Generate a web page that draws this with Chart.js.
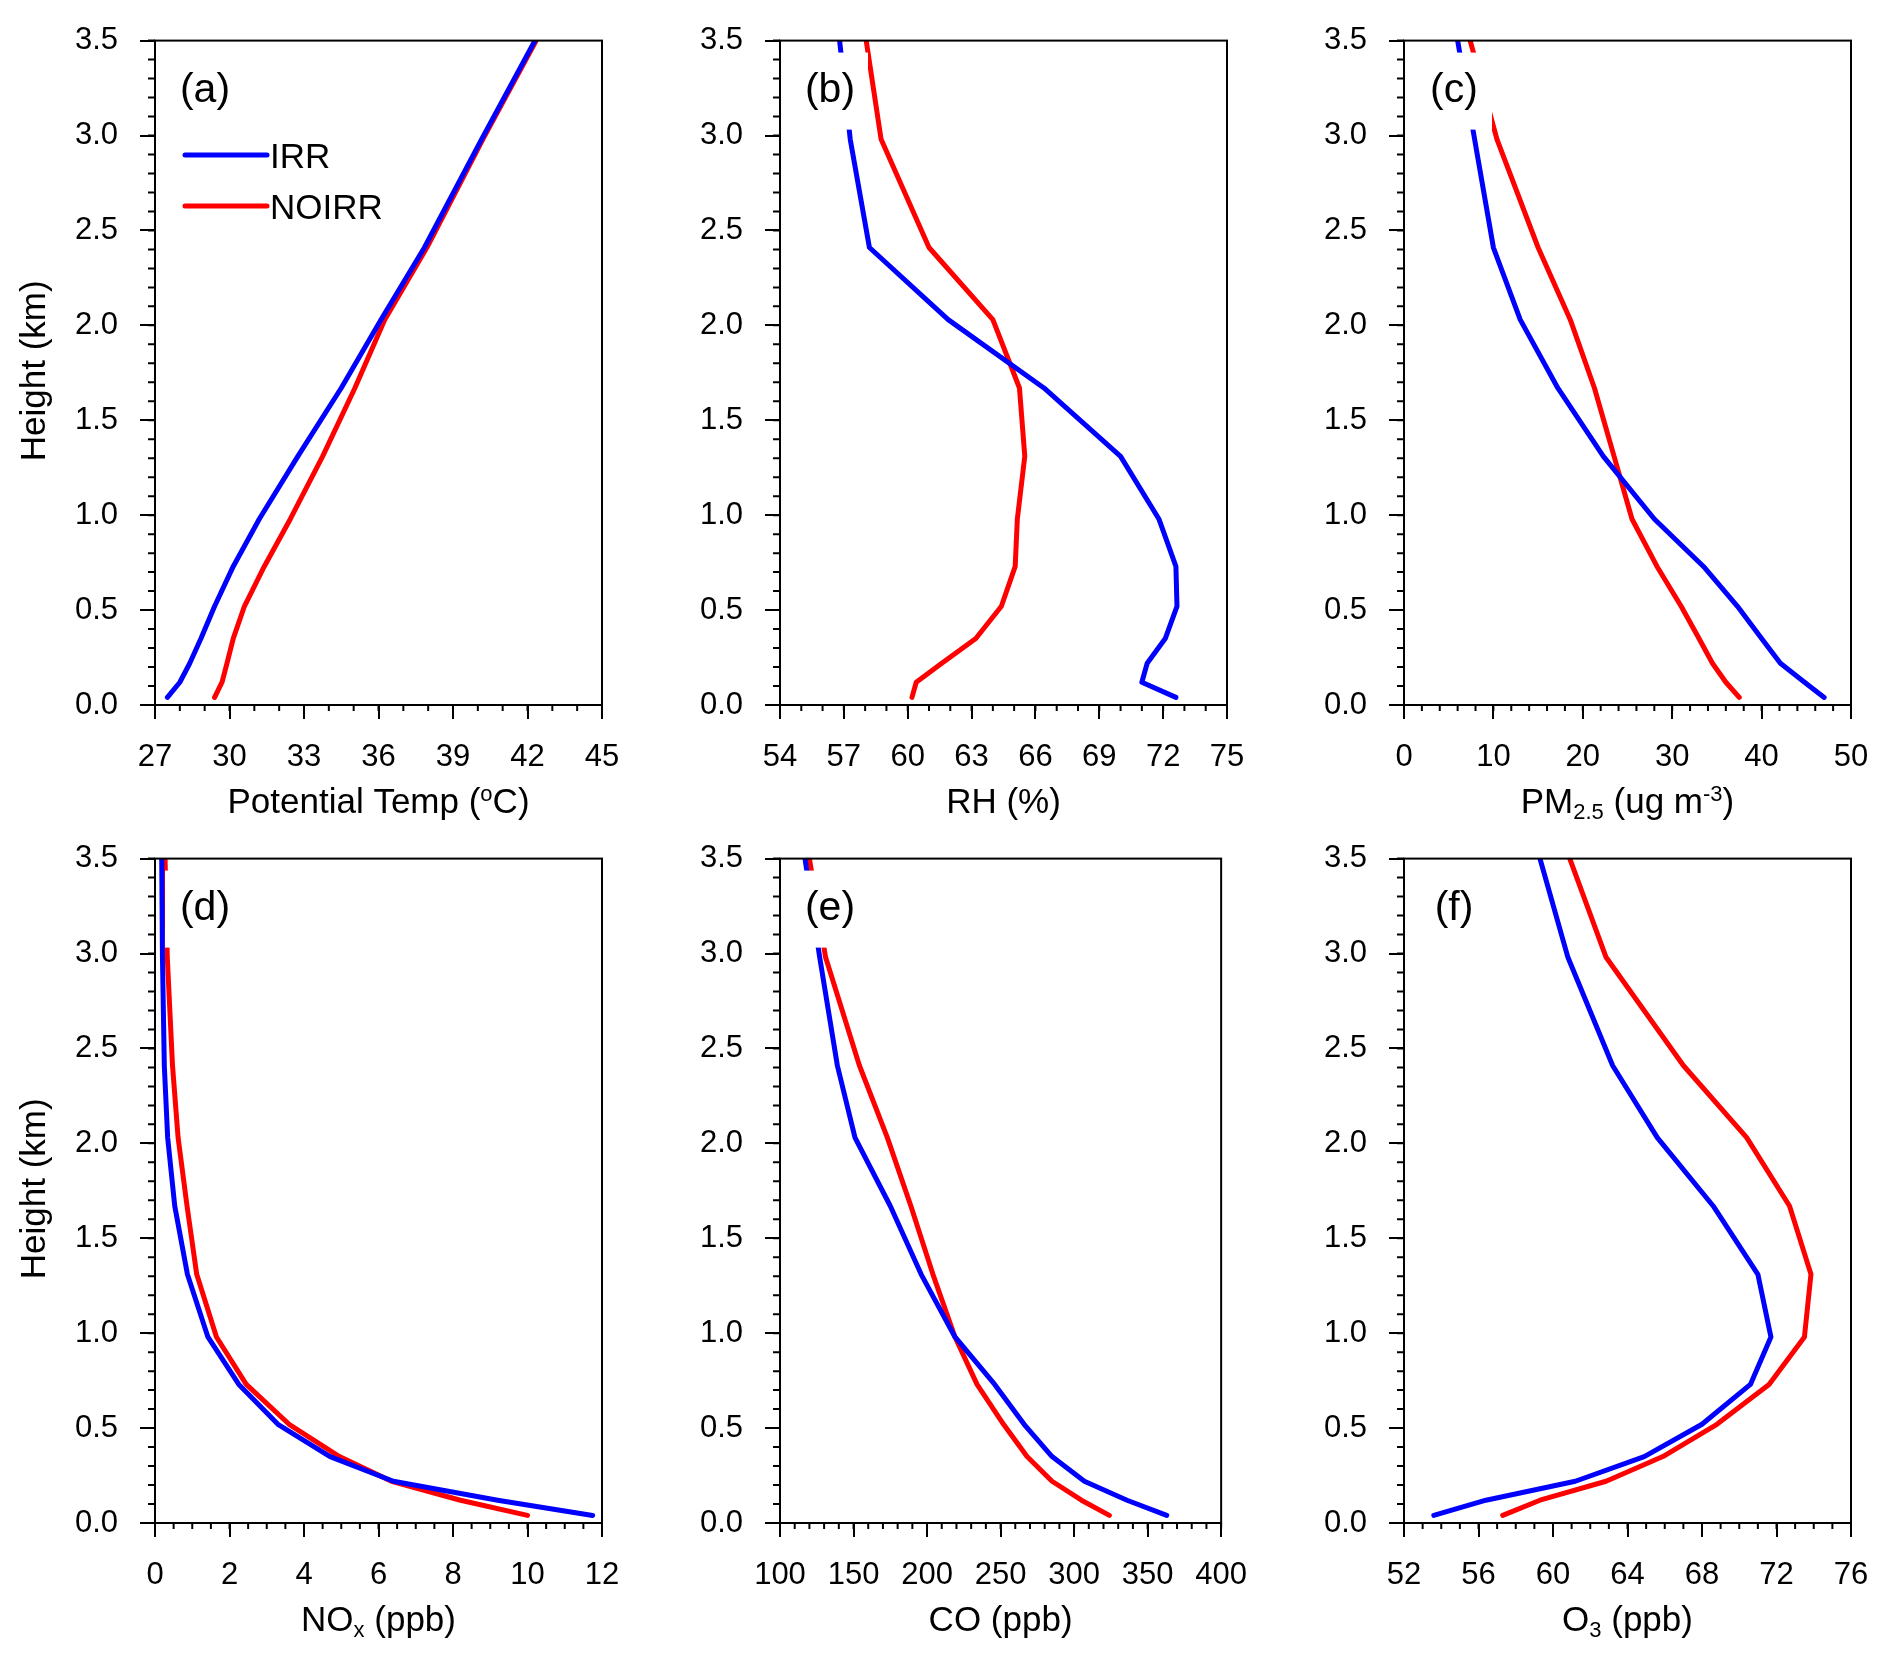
<!DOCTYPE html>
<html>
<head>
<meta charset="utf-8">
<script src="https://cdn.jsdelivr.net/npm/chart.js@4.4.1/dist/chart.umd.min.js"></script>
<style>
  body { margin: 0; background: #fff; }
  #page { position: relative; width: 1892px; height: 1661px; background: #fff; }
  canvas { position: absolute; }
</style>
</head>
<body>
<div id="page"></div>
<script>
// model levels (km) shared by every profile
var levelHeights = [0.04, 0.12, 0.22, 0.35, 0.52, 0.73, 0.98, 1.31, 1.67, 2.03, 2.41, 2.98, 3.5];
var heightTicks = [0, 0.5, 1.0, 1.5, 2.0, 2.5, 3.0, 3.5];

var thetaIRR   = [27.5, 28.0, 28.4, 28.85, 29.4, 30.15, 31.2, 32.75, 34.5, 36.1, 37.85, 40.15, 42.3];
var thetaNOIRR = [29.4, 29.7, 29.9, 30.15, 30.6, 31.4, 32.45, 33.75, 35.05, 36.25, 37.95, 40.2, 42.35];
var thetaTicks = [27, 30, 33, 36, 39, 42, 45];

var rhIRR   = [72.6, 71.0, 71.25, 72.1, 72.65, 72.6, 71.8, 70.0, 66.4, 61.9, 58.2, 57.3, 56.8];
var rhNOIRR = [60.2, 60.4, 61.6, 63.2, 64.4, 65.05, 65.15, 65.5, 65.25, 64.0, 61.0, 58.75, 58.05];
var rhTicks = [54, 57, 60, 63, 66, 69, 72, 75];

var pmIRR   = [47.0, 44.8, 42.1, 40.0, 37.3, 33.5, 28.0, 22.3, 17.2, 13.0, 10.0, 7.9, 6.0];
var pmNOIRR = [37.5, 36.0, 34.5, 33.0, 31.0, 28.3, 25.5, 23.5, 21.3, 18.6, 15.0, 10.4, 7.4];
var pmTicks = [0, 10, 20, 30, 40, 50];

var noxIRR   = [11.75, 9.2, 6.4, 4.7, 3.3, 2.25, 1.42, 0.87, 0.53, 0.34, 0.25, 0.2, 0.18];
var noxNOIRR = [10.0, 8.2, 6.35, 4.95, 3.6, 2.45, 1.65, 1.12, 0.86, 0.62, 0.47, 0.33, 0.27];
var noxTicks = [0, 2, 4, 6, 8, 10, 12];

var coIRR   = [363, 336, 307, 285, 266, 246, 219, 196, 175, 151, 139, 127, 117];
var coNOIRR = [324, 305, 285, 268, 252, 234, 219, 204, 189, 173, 154, 131, 120];
var coTicks = [100, 150, 200, 250, 300, 350, 400];

var o3IRR   = [53.6, 56.4, 61.2, 64.9, 68.0, 70.6, 71.7, 71.0, 68.6, 65.6, 63.2, 60.8, 59.3];
var o3NOIRR = [57.3, 59.3, 62.85, 65.9, 68.8, 71.6, 73.5, 73.85, 72.7, 70.4, 67.0, 62.85, 60.9];
var o3Ticks = [52, 56, 60, 64, 68, 72, 76];

var seriesNames = ['IRR', 'NOIRR'];
var seriesColors = ['#0000ff', '#ff0000'];

var FONT = '"Liberation Sans", Arial, Helvetica, sans-serif';
var plotW = 447, plotH = 672;
var padL = 150, padT = 33, padR = 40, padB = 130;
var colLeft = [155, 780, 1404];
var rowTop = [33, 851];

var panels = [
    { tag: '(a)', irr: thetaIRR, noirr: thetaNOIRR, xTicks: thetaTicks, minor: 1, col: 0, row: 0, yTitle: true, legend: true,
      title: [['Potential Temp (', 'n'], ['o', 'sup'], ['C)', 'n']] },
    { tag: '(b)', irr: rhIRR, noirr: rhNOIRR, xTicks: rhTicks, minor: 1, col: 1, row: 0,
      title: [['RH (%)', 'n']] },
    { tag: '(c)', irr: pmIRR, noirr: pmNOIRR, xTicks: pmTicks, minor: 2, col: 2, row: 0,
      title: [['PM', 'n'], ['2.5', 'sub'], [' (ug m', 'n'], ['-3', 'sup'], [')', 'n']] },
    { tag: '(d)', irr: noxIRR, noirr: noxNOIRR, xTicks: noxTicks, minor: 0.5, col: 0, row: 1, yTitle: true,
      title: [['NO', 'n'], ['x', 'sub'], [' (ppb)', 'n']] },
    { tag: '(e)', irr: coIRR, noirr: coNOIRR, xTicks: coTicks, minor: 10, col: 1, row: 1,
      title: [['CO (ppb)', 'n']] },
    { tag: '(f)', irr: o3IRR, noirr: o3NOIRR, xTicks: o3Ticks, minor: 1, col: 2, row: 1,
      title: [['O', 'n'], ['3', 'sub'], [' (ppb)', 'n']] }
];

Chart.defaults.font.family = FONT;
Chart.defaults.color = '#000';

function segFont(kind) {
    return (kind === 'n' ? 35 : 22) + 'px ' + FONT;
}

function makeDecor(p) {
    return {
        id: 'decor',
        afterDatasetsDraw: function (chart) {
            var ctx = chart.ctx, a = chart.chartArea;
            var xs = chart.scales.x, ys = chart.scales.y;
            ctx.save();

            // white box behind the panel tag, it hides the lines like in NCL
            ctx.fillStyle = '#fff';
            ctx.fillRect(a.left + 10, a.top + 12, 78, 77);
            ctx.fillStyle = '#000';
            ctx.font = '41px ' + FONT;
            ctx.textAlign = 'center';
            ctx.textBaseline = 'alphabetic';
            ctx.fillText(p.tag, a.left + 50, a.top + 61);

            // frame
            ctx.strokeStyle = '#000';
            ctx.lineWidth = 2;
            ctx.strokeRect(a.left, a.top, a.right - a.left, a.bottom - a.top);

            // minor ticks
            var xmin = p.xTicks[0], xmax = p.xTicks[p.xTicks.length - 1];
            var n = Math.round((xmax - xmin) / p.minor);
            ctx.beginPath();
            for (var i = 0; i <= n; i++) {
                var v = xmin + i * p.minor;
                var px = xs.getPixelForValue(v);
                ctx.moveTo(px, a.bottom);
                ctx.lineTo(px, a.bottom + 6);
            }
            var ny = Math.round(3.5 / 0.1);
            for (var j = 0; j <= ny; j++) {
                var py = ys.getPixelForValue(j * 0.1);
                ctx.moveTo(a.left, py);
                ctx.lineTo(a.left - 7, py);
            }
            ctx.stroke();

            // x title with sub/superscripts
            var total = 0;
            p.title.forEach(function (s) {
                ctx.font = segFont(s[1]);
                total += ctx.measureText(s[0]).width;
            });
            var tx = (a.left + a.right) / 2 - total / 2, ty = a.bottom + 108;
            ctx.textAlign = 'left';
            p.title.forEach(function (s) {
                ctx.font = segFont(s[1]);
                var dy = s[1] === 'sub' ? 6 : (s[1] === 'sup' ? -12 : 0);
                ctx.fillText(s[0], tx, ty + dy);
                tx += ctx.measureText(s[0]).width;
            });

            // y title
            if (p.yTitle) {
                ctx.save();
                ctx.translate(a.left - 110, (a.top + a.bottom) / 2 - 2);
                ctx.rotate(-Math.PI / 2);
                ctx.font = '35px ' + FONT;
                ctx.textAlign = 'center';
                ctx.fillText('Height (km)', 0, 0);
                ctx.restore();
            }

            // legend
            if (p.legend) {
                ctx.lineCap = 'round';
                ctx.lineWidth = 5;
                ctx.font = '35px ' + FONT;
                ctx.textAlign = 'left';
                chart.data.datasets.forEach(function (ds, k) {
                    var ly = a.top + 114.5 + k * 51;
                    ctx.strokeStyle = ds.borderColor;
                    ctx.beginPath();
                    ctx.moveTo(a.left + 30, ly);
                    ctx.lineTo(a.left + 112, ly);
                    ctx.stroke();
                    ctx.fillText(ds.label, a.left + 115, ly + 12.5);
                });
            }
            ctx.restore();
        }
    };
}

function toPoints(vals) {
    return vals.map(function (v, i) { return { x: v, y: levelHeights[i] }; });
}

var page = document.getElementById('page');
panels.forEach(function (p) {
    var cv = document.createElement('canvas');
    cv.width = padL + plotW + padR;
    cv.height = padT + plotH + padB;
    cv.style.left = (colLeft[p.col] - padL) + 'px';
    cv.style.top = (rowTop[p.row] - padT) + 'px';
    cv.style.width = cv.width + 'px';
    cv.style.height = cv.height + 'px';
    page.appendChild(cv);

    var sets = [p.irr, p.noirr].map(function (vals, k) {
        return {
            label: seriesNames[k],
            data: toPoints(vals),
            showLine: true,
            borderColor: seriesColors[k],
            backgroundColor: seriesColors[k],
            borderWidth: 5,
            borderCapStyle: 'round',
            borderJoinStyle: 'round',
            pointRadius: 0,
            pointHoverRadius: 0,
            fill: false,
            tension: 0,
            clip: 0
        };
    });

    new Chart(cv.getContext('2d'), {
        type: 'scatter',
        data: { datasets: sets },
        options: {
            responsive: false,
            animation: false,
            devicePixelRatio: 1,
            layout: { padding: { top: padT, right: padR, left: 0, bottom: 0 } },
            plugins: { legend: { display: false }, tooltip: { enabled: false } },
            scales: {
                x: {
                    type: 'linear',
                    min: p.xTicks[0],
                    max: p.xTicks[p.xTicks.length - 1],
                    afterBuildTicks: function (s) {
                        s.ticks = p.xTicks.map(function (v) { return { value: v }; });
                    },
                    afterFit: function (s) { s.height = padB; },
                    grid: { drawOnChartArea: false, drawTicks: true, tickLength: 14, color: '#000', lineWidth: 2 },
                    border: { display: true, color: '#000', width: 2 },
                    ticks: {
                        autoSkip: false, maxRotation: 0, padding: 20,
                        font: { size: 31 }, color: '#000',
                        callback: function (v) { return String(v); }
                    }
                },
                y: {
                    type: 'linear',
                    min: 0,
                    max: 3.5,
                    afterBuildTicks: function (s) {
                        s.ticks = heightTicks.map(function (v) { return { value: v }; });
                    },
                    afterFit: function (s) { s.width = padL; },
                    grid: { drawOnChartArea: false, drawTicks: true, tickLength: 15, color: '#000', lineWidth: 2 },
                    border: { display: true, color: '#000', width: 2 },
                    ticks: {
                        autoSkip: false, padding: 22,
                        font: { size: 31 }, color: '#000',
                        callback: function (v) { return Number(v).toFixed(1); }
                    }
                }
            }
        },
        plugins: [makeDecor(p)]
    });
});
</script>
</body>
</html>
